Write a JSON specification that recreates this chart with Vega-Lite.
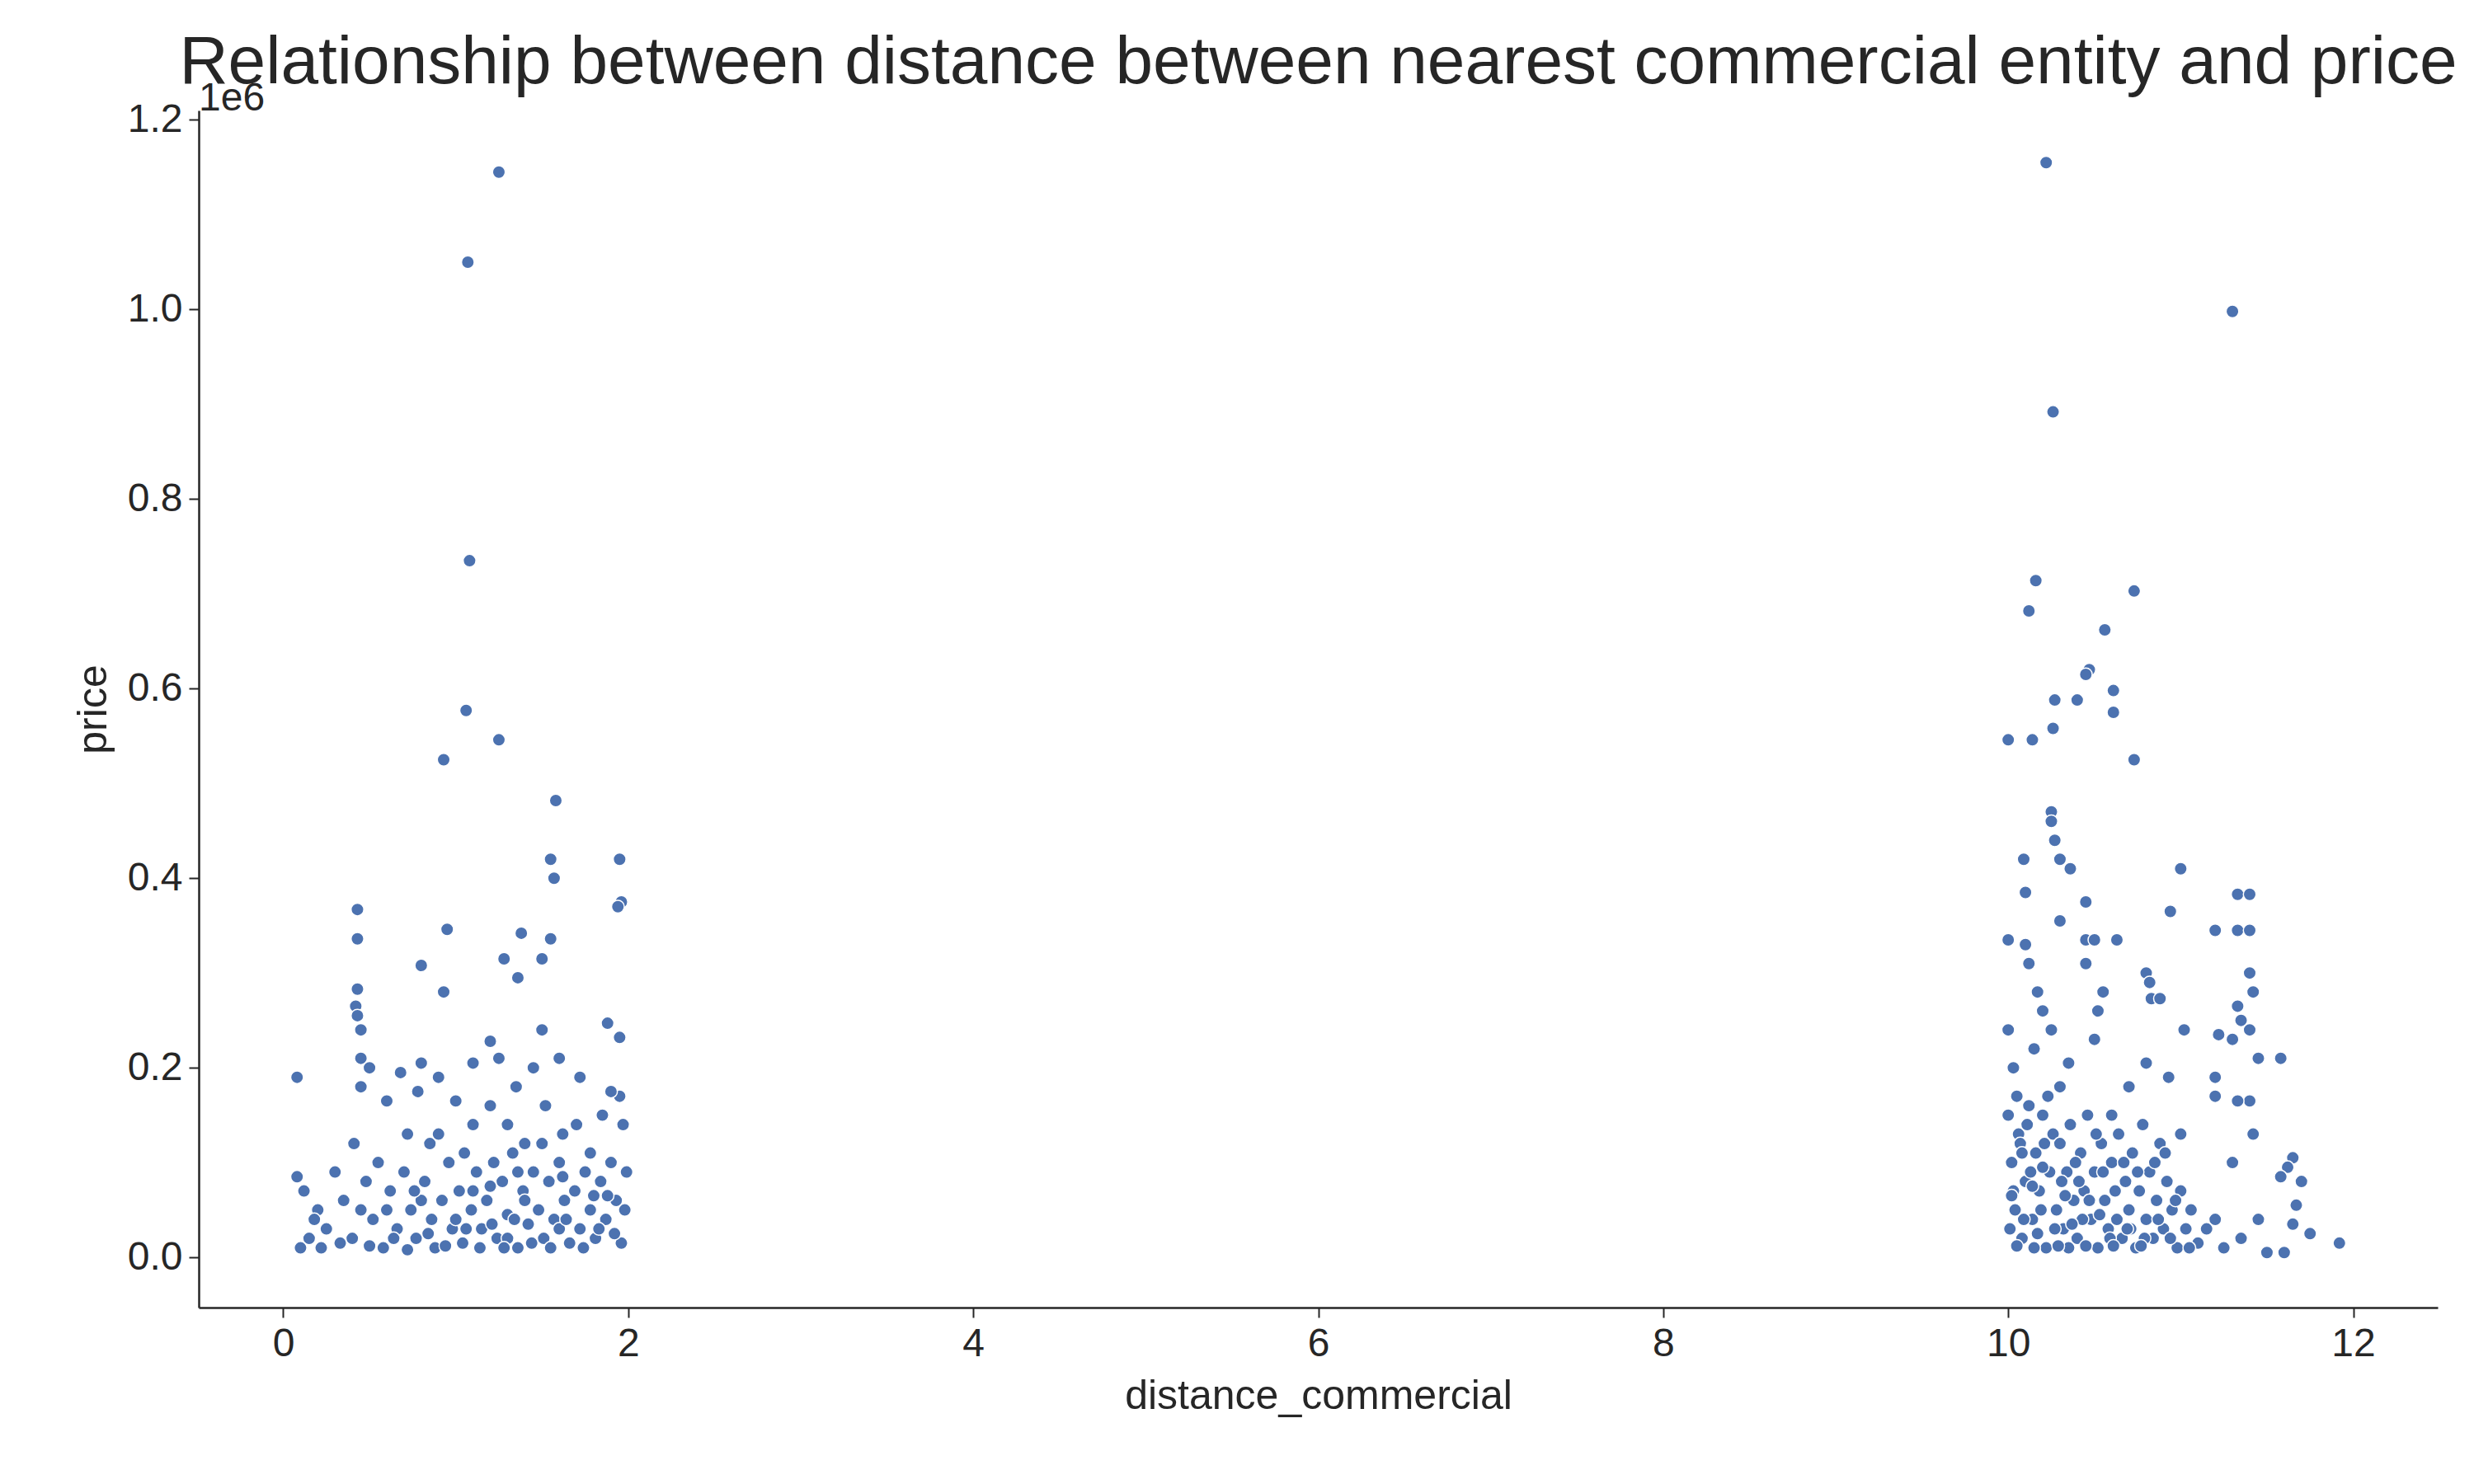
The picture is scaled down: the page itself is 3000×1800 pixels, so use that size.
{
"$schema":"https://vega.github.io/schema/vega-lite/v6.json",
"width":2715,"height":1452,
"autosize":{"type":"none"},
"padding":{"left":241,"top":134,"right":44,"bottom":214},
"background":"white",
"config":{"font":"Liberation Sans","view":{"stroke":null},
"axis":{"domainColor":"#262626","tickColor":"#262626","labelColor":"#262626","titleColor":"#262626","grid":false,"labelFontSize":48,"titleFontSize":50,"titleFontWeight":"normal","tickSize":12,"tickWidth":2,"domainWidth":2.5,"labelPadding":8}},
"title":{"text":"Relationship between distance between nearest commercial entity and price","fontSize":82,"fontWeight":"normal","color":"#262626","anchor":"middle","offset":-22},
"datasets":{"pts":[
{"d":0.08,"p":0.19},{"d":0.08,"p":0.085},{"d":1.25,"p":1.145},{"d":1.07,"p":1.05},{"d":1.08,"p":0.735},{"d":1.06,"p":0.577},{"d":1.25,"p":0.546},{"d":0.93,"p":0.525},{"d":1.58,"p":0.482},{"d":1.55,"p":0.42},{"d":1.57,"p":0.4},{"d":1.95,"p":0.42},{"d":1.96,"p":0.375},{"d":1.94,"p":0.37},{"d":0.43,"p":0.367},{"d":0.95,"p":0.346},{"d":1.38,"p":0.342},{"d":0.43,"p":0.336},{"d":1.55,"p":0.336},{"d":1.28,"p":0.315},{"d":1.5,"p":0.315},{"d":0.8,"p":0.308},{"d":1.36,"p":0.295},{"d":0.93,"p":0.28},{"d":0.43,"p":0.283},{"d":0.42,"p":0.265},{"d":0.43,"p":0.255},{"d":0.45,"p":0.24},{"d":1.88,"p":0.247},{"d":1.95,"p":0.232},{"d":1.5,"p":0.24},{"d":1.2,"p":0.228},{"d":1.25,"p":0.21},{"d":1.6,"p":0.21},{"d":0.45,"p":0.21},{"d":0.8,"p":0.205},{"d":1.1,"p":0.205},{"d":0.5,"p":0.2},{"d":0.68,"p":0.195},{"d":0.9,"p":0.19},{"d":1.72,"p":0.19},{"d":1.95,"p":0.17},{"d":1.9,"p":0.175},{"d":1.45,"p":0.2},{"d":1.35,"p":0.18},{"d":0.78,"p":0.175},{"d":1.0,"p":0.165},{"d":0.6,"p":0.165},{"d":0.45,"p":0.18},{"d":0.41,"p":0.12},{"d":1.2,"p":0.16},{"d":1.52,"p":0.16},{"d":1.85,"p":0.15},{"d":1.97,"p":0.14},{"d":0.72,"p":0.13},{"d":1.3,"p":0.14},{"d":1.62,"p":0.13},{"d":0.85,"p":0.12},{"d":1.05,"p":0.11},{"d":1.4,"p":0.12},{"d":1.78,"p":0.11},{"d":0.55,"p":0.1},{"d":0.3,"p":0.09},{"d":0.12,"p":0.07},{"d":0.2,"p":0.05},{"d":0.15,"p":0.02},{"d":0.1,"p":0.01},{"d":0.25,"p":0.03},{"d":0.35,"p":0.06},{"d":0.4,"p":0.02},{"d":0.48,"p":0.08},{"d":0.52,"p":0.04},{"d":0.58,"p":0.01},{"d":0.62,"p":0.07},{"d":0.66,"p":0.03},{"d":0.7,"p":0.09},{"d":0.74,"p":0.05},{"d":0.77,"p":0.02},{"d":0.82,"p":0.08},{"d":0.86,"p":0.04},{"d":0.88,"p":0.01},{"d":0.92,"p":0.06},{"d":0.96,"p":0.1},{"d":0.98,"p":0.03},{"d":1.02,"p":0.07},{"d":1.04,"p":0.015},{"d":1.09,"p":0.05},{"d":1.12,"p":0.09},{"d":1.15,"p":0.03},{"d":1.18,"p":0.06},{"d":1.22,"p":0.1},{"d":1.24,"p":0.02},{"d":1.27,"p":0.08},{"d":1.3,"p":0.045},{"d":1.33,"p":0.11},{"d":1.36,"p":0.01},{"d":1.39,"p":0.07},{"d":1.42,"p":0.035},{"d":1.45,"p":0.09},{"d":1.48,"p":0.05},{"d":1.51,"p":0.02},{"d":1.54,"p":0.08},{"d":1.57,"p":0.04},{"d":1.6,"p":0.1},{"d":1.63,"p":0.06},{"d":1.66,"p":0.015},{"d":1.69,"p":0.07},{"d":1.72,"p":0.03},{"d":1.75,"p":0.09},{"d":1.78,"p":0.05},{"d":1.81,"p":0.02},{"d":1.84,"p":0.08},{"d":1.87,"p":0.04},{"d":1.9,"p":0.1},{"d":1.93,"p":0.06},{"d":1.96,"p":0.015},{"d":1.98,"p":0.05},{"d":1.99,"p":0.09},{"d":0.6,"p":0.05},{"d":0.8,"p":0.06},{"d":1.0,"p":0.04},{"d":1.2,"p":0.075},{"d":1.4,"p":0.06},{"d":1.6,"p":0.03},{"d":1.8,"p":0.065},{"d":0.9,"p":0.13},{"d":1.1,"p":0.14},{"d":1.3,"p":0.02},{"d":1.5,"p":0.12},{"d":1.7,"p":0.14},{"d":0.45,"p":0.05},{"d":0.33,"p":0.015},{"d":0.22,"p":0.01},{"d":0.18,"p":0.04},
{"d":0.5,"p":0.012},{"d":0.64,"p":0.02},{"d":0.72,"p":0.008},{"d":0.84,"p":0.025},{"d":0.94,"p":0.012},{"d":1.06,"p":0.03},{"d":1.14,"p":0.01},{"d":1.21,"p":0.035},{"d":1.28,"p":0.01},{"d":1.34,"p":0.04},{"d":1.44,"p":0.015},{"d":1.55,"p":0.01},{"d":1.64,"p":0.04},{"d":1.74,"p":0.01},{"d":1.83,"p":0.03},{"d":1.92,"p":0.025},{"d":1.1,"p":0.07},{"d":1.36,"p":0.09},{"d":1.62,"p":0.085},{"d":0.76,"p":0.07},{"d":1.88,"p":0.065},

{"d":10.22,"p":1.155},{"d":11.3,"p":0.998},{"d":10.26,"p":0.892},{"d":10.16,"p":0.714},{"d":10.73,"p":0.703},{"d":10.12,"p":0.682},{"d":10.56,"p":0.662},{"d":10.47,"p":0.62},{"d":10.45,"p":0.615},{"d":10.61,"p":0.598},{"d":10.27,"p":0.588},{"d":10.4,"p":0.588},{"d":10.61,"p":0.575},{"d":10.26,"p":0.558},{"d":10.0,"p":0.546},{"d":10.14,"p":0.546},{"d":10.73,"p":0.525},{"d":10.25,"p":0.47},{"d":10.25,"p":0.46},{"d":10.27,"p":0.44},{"d":10.3,"p":0.42},{"d":10.09,"p":0.42},{"d":10.36,"p":0.41},{"d":11.0,"p":0.41},{"d":10.1,"p":0.385},{"d":11.33,"p":0.383},{"d":11.4,"p":0.383},{"d":10.45,"p":0.375},{"d":10.94,"p":0.365},{"d":10.3,"p":0.355},{"d":10.0,"p":0.335},{"d":10.1,"p":0.33},{"d":10.45,"p":0.335},{"d":10.5,"p":0.335},{"d":10.63,"p":0.335},{"d":11.2,"p":0.345},{"d":11.33,"p":0.345},{"d":11.4,"p":0.345},{"d":10.12,"p":0.31},{"d":10.45,"p":0.31},{"d":10.8,"p":0.3},{"d":10.82,"p":0.29},{"d":11.4,"p":0.3},{"d":11.42,"p":0.28},{"d":10.55,"p":0.28},{"d":10.83,"p":0.273},{"d":10.88,"p":0.273},{"d":10.17,"p":0.28},{"d":10.2,"p":0.26},{"d":10.52,"p":0.26},{"d":11.33,"p":0.265},{"d":11.35,"p":0.25},{"d":11.4,"p":0.24},{"d":10.0,"p":0.24},{"d":10.25,"p":0.24},{"d":11.02,"p":0.24},{"d":11.22,"p":0.235},{"d":11.3,"p":0.23},{"d":10.5,"p":0.23},{"d":10.15,"p":0.22},{"d":10.35,"p":0.205},{"d":10.8,"p":0.205},{"d":11.45,"p":0.21},{"d":11.58,"p":0.21},{"d":10.03,"p":0.2},{"d":10.3,"p":0.18},{"d":10.7,"p":0.18},{"d":10.93,"p":0.19},{"d":11.2,"p":0.17},{"d":11.4,"p":0.165},{"d":11.33,"p":0.165},{"d":10.6,"p":0.15},{"d":10.0,"p":0.15},{"d":11.2,"p":0.19},{"d":11.0,"p":0.13},{"d":11.42,"p":0.13},{"d":11.3,"p":0.1},{"d":11.65,"p":0.105},{"d":11.62,"p":0.095},{"d":11.58,"p":0.085},{"d":11.7,"p":0.08},{"d":11.67,"p":0.055},{"d":11.75,"p":0.025},{"d":11.92,"p":0.015},{"d":11.6,"p":0.005},{"d":11.5,"p":0.005},{"d":11.45,"p":0.04},{"d":11.65,"p":0.035},{"d":11.2,"p":0.04},
{"d":10.02,"p":0.1},{"d":10.04,"p":0.05},{"d":10.06,"p":0.13},{"d":10.08,"p":0.02},{"d":10.1,"p":0.08},{"d":10.12,"p":0.16},{"d":10.14,"p":0.04},{"d":10.16,"p":0.11},{"d":10.18,"p":0.07},{"d":10.2,"p":0.15},{"d":10.22,"p":0.01},{"d":10.24,"p":0.09},{"d":10.26,"p":0.13},{"d":10.28,"p":0.05},{"d":10.3,"p":0.12},{"d":10.32,"p":0.03},{"d":10.34,"p":0.09},{"d":10.36,"p":0.14},{"d":10.38,"p":0.06},{"d":10.4,"p":0.02},{"d":10.42,"p":0.11},{"d":10.44,"p":0.07},{"d":10.46,"p":0.15},{"d":10.48,"p":0.04},{"d":10.5,"p":0.09},{"d":10.52,"p":0.01},{"d":10.54,"p":0.12},{"d":10.56,"p":0.06},{"d":10.58,"p":0.03},{"d":10.6,"p":0.1},{"d":10.62,"p":0.07},{"d":10.64,"p":0.13},{"d":10.66,"p":0.02},{"d":10.68,"p":0.08},{"d":10.7,"p":0.05},{"d":10.72,"p":0.11},{"d":10.74,"p":0.01},{"d":10.76,"p":0.07},{"d":10.78,"p":0.14},{"d":10.8,"p":0.04},{"d":10.82,"p":0.09},{"d":10.84,"p":0.02},{"d":10.86,"p":0.06},{"d":10.88,"p":0.12},{"d":10.9,"p":0.03},{"d":10.92,"p":0.08},{"d":10.95,"p":0.05},{"d":10.98,"p":0.01},{"d":11.0,"p":0.07},{"d":11.03,"p":0.03},{"d":11.06,"p":0.05},{"d":11.1,"p":0.015},{"d":11.15,"p":0.03},{"d":11.25,"p":0.01},{"d":11.35,"p":0.02},{"d":10.01,"p":0.03},{"d":10.03,"p":0.07},{"d":10.05,"p":0.17},{"d":10.07,"p":0.12},{"d":10.09,"p":0.04},{"d":10.11,"p":0.14},{"d":10.13,"p":0.09},{"d":10.15,"p":0.01},{"d":10.19,"p":0.05},{"d":10.21,"p":0.12},{"d":10.23,"p":0.17},{"d":10.27,"p":0.03},{"d":10.31,"p":0.08},{"d":10.35,"p":0.01},{"d":10.39,"p":0.1},{"d":10.43,"p":0.04},{"d":10.47,"p":0.06},{"d":10.51,"p":0.13},{"d":10.55,"p":0.09},{"d":10.59,"p":0.02},{"d":10.63,"p":0.04},{"d":10.67,"p":0.1},{"d":10.71,"p":0.03},{"d":10.75,"p":0.09},{"d":10.79,"p":0.02},{"d":10.85,"p":0.1},{"d":10.91,"p":0.11},{"d":10.97,"p":0.06},
{"d":10.05,"p":0.012},{"d":10.17,"p":0.025},{"d":10.29,"p":0.012},{"d":10.37,"p":0.035},{"d":10.45,"p":0.012},{"d":10.53,"p":0.045},{"d":10.61,"p":0.012},{"d":10.69,"p":0.03},{"d":10.77,"p":0.012},{"d":10.87,"p":0.04},{"d":10.94,"p":0.02},{"d":11.05,"p":0.01},{"d":10.02,"p":0.065},{"d":10.08,"p":0.11},{"d":10.14,"p":0.075},{"d":10.2,"p":0.095},{"d":10.33,"p":0.065},{"d":10.41,"p":0.08}
]},
"layer":[
{"data":{"name":"pts"},"mark":{"type":"circle","size":240,"opacity":1,"color":"#4c72b0","stroke":"white","strokeWidth":1.5},
"encoding":{
"x":{"field":"d","type":"quantitative","title":"distance_commercial","scale":{"domain":[-0.49,12.49],"nice":false,"zero":false},"axis":{"values":[0,2,4,6,8,10,12],"format":"d","titlePadding":14}},
"y":{"field":"p","type":"quantitative","title":"price","scale":{"domain":[-0.053,1.21],"nice":false,"zero":false},"axis":{"values":[0,0.2,0.4,0.6,0.8,1.0,1.2],"format":".1f","titlePadding":16}}}},
{"data":{"values":[{"t":"1e6"}]},"mark":{"type":"text","fontSize":48,"color":"#262626","align":"left","baseline":"bottom","clip":false,"dy":10},
"encoding":{"text":{"field":"t"},"x":{"datum":-0.49},"y":{"datum":1.21}}}
]
}
